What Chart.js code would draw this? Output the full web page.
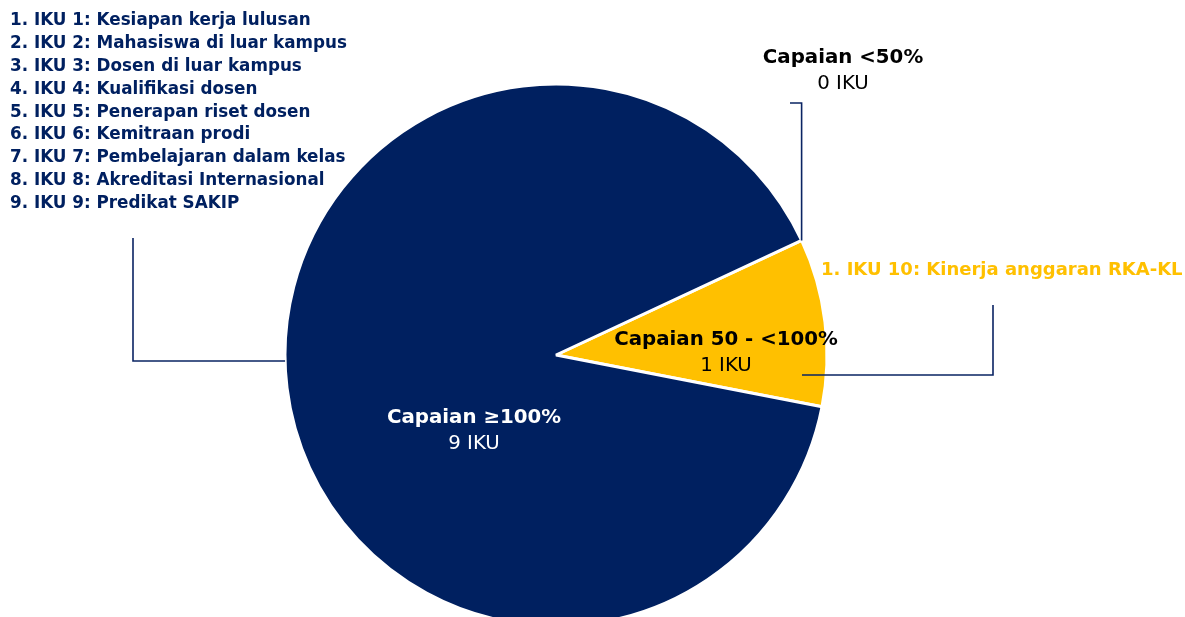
<!DOCTYPE html>
<html>
<head>
<meta charset="utf-8">
<script src="https://cdn.jsdelivr.net/npm/chart.js@4/dist/chart.umd.min.js"></script>
<style>
  html, body { margin: 0; padding: 0; background: #fff; overflow: hidden; }
  #wrap { width: 1185px; height: 617px; }
</style>
</head>
<body>
<div id="wrap"><canvas id="pie" width="1185" height="617"></canvas></div>
<script>
// kategori capaian IKU, urutan searah jarum jam
const kategori = ["Capaian 50 - <100%", "Capaian \u2265100%", "Capaian <50%"];
const jumlahIku = [1, 9, 0];
const warna = ["#FFC000", "#002060", "#C00000"];

const ikuTercapai = [
  "1. IKU 1: Kesiapan kerja lulusan",
  "2. IKU 2: Mahasiswa di luar kampus",
  "3. IKU 3: Dosen di luar kampus",
  "4. IKU 4: Kualifikasi dosen",
  "5. IKU 5: Penerapan riset dosen",
  "6. IKU 6: Kemitraan prodi",
  "7. IKU 7: Pembelajaran dalam kelas",
  "8. IKU 8: Akreditasi Internasional",
  "9. IKU 9: Predikat SAKIP"
];
const ikuSebagian = ["1. IKU 10: Kinerja anggaran RKA-KL"];

const FONT = "'DejaVu Sans', Verdana, sans-serif";
const GARIS = "#0A2463";

function teks(ctx, str, x, y, bold, color, size, align) {
  ctx.font = (bold ? "bold " : "") + size + "px " + FONT;
  ctx.fillStyle = color;
  ctx.textAlign = align || "center";
  ctx.textBaseline = "middle";
  ctx.fillText(str, x, y);
}

const labelPlugin = {
  id: "labelIku",
  afterDatasetsDraw(chart) {
    const ctx = chart.ctx;
    const arcs = chart.getDatasetMeta(0).data;
    const cx = arcs[0].x, cy = arcs[0].y, r = arcs[0].outerRadius;
    ctx.save();

    // garis penunjuk
    ctx.strokeStyle = GARIS;
    ctx.lineWidth = 1.6;
    // <50% -> batas irisan nol
    const a0 = arcs[2].startAngle;
    const px = cx + r * Math.cos(a0), py = cy + r * Math.sin(a0);
    ctx.beginPath();
    ctx.moveTo(790, 103);
    ctx.lineTo(px, 103);
    ctx.lineTo(px, py);
    ctx.stroke();
    // IKU 10 -> irisan kuning
    ctx.beginPath();
    ctx.moveTo(993, 305);
    ctx.lineTo(993, 375);
    ctx.lineTo(802, 375);
    ctx.stroke();
    // daftar IKU -> tepi kiri pie
    const ly = 361;
    const lx = cx - Math.sqrt(r * r - (ly - cy) * (ly - cy));
    ctx.beginPath();
    ctx.moveTo(133, 238);
    ctx.lineTo(133, ly);
    ctx.lineTo(lx, ly);
    ctx.stroke();

    // daftar IKU tercapai
    ikuTercapai.forEach((t, i) => teks(ctx, t, 10, 21 + i * 22.8, true, "#002060", 16.8, "left"));
    ikuSebagian.forEach((t, i) => teks(ctx, t, 821, 270 + i * 22.8, true, "#FFC000", 18, "left"));

    // label kategori
    const pos = [[726, 340], [474, 418], [843, 58]];
    const warnaTeks = ["#000", "#fff", "#000"];
    kategori.forEach((k, i) => {
      teks(ctx, k, pos[i][0], pos[i][1], true, warnaTeks[i], 19.8);
      teks(ctx, jumlahIku[i] + " IKU", pos[i][0], pos[i][1] + 26, false, warnaTeks[i], 19.8);
    });
    ctx.restore();
  }
};

const ctx = document.getElementById("pie");
window.myChart = new Chart(ctx, {
  type: "pie",
  data: {
    labels: kategori,
    datasets: [{
      data: jumlahIku,
      backgroundColor: warna,
      borderColor: "#ffffff",
      borderWidth: [3, 3, 0],
      clip: false
    }]
  },
  options: {
    responsive: false,
    animation: false,
    rotation: 65,
    radius: 271,
    layout: { padding: { left: 0, right: 73, top: 93, bottom: 0 } },
    plugins: {
      legend: { display: false },
      tooltip: { enabled: false }
    }
  },
  plugins: [labelPlugin]
});
</script>
</body>
</html>
